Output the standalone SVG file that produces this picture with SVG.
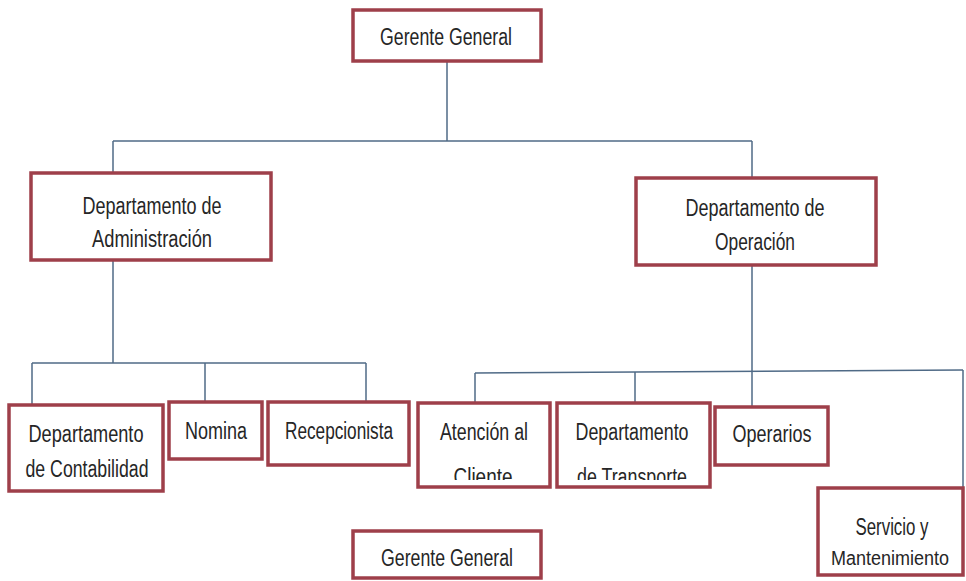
<svg xmlns="http://www.w3.org/2000/svg" width="966" height="581" viewBox="0 0 966 581">
<style>
.box{fill:#ffffff;stroke:#9e3f4a;stroke-width:3.5}
.lbl{font-family:"Liberation Sans",Arial,sans-serif;font-size:23px;fill:#262626;text-anchor:middle}
.conn{fill:none;stroke:#4f6a86;stroke-width:1.5}
</style>
<defs>
<clipPath id="clipA"><rect x="418" y="403" width="132" height="77"/></clipPath>
<clipPath id="clipT"><rect x="557" y="403" width="153" height="77"/></clipPath>
</defs>
<rect width="966" height="581" fill="#ffffff"/>
<g id="connectors">
<path class="conn" d="M447,61 V141"/>
<path class="conn" d="M113,141 H752"/>
<path class="conn" d="M113,141 V173"/>
<path class="conn" d="M752,141 V178"/>
<path class="conn" d="M113,260 V363"/>
<path class="conn" d="M32,363 H366"/>
<path class="conn" d="M32,363 V405"/>
<path class="conn" d="M205,363 V402"/>
<path class="conn" d="M366,363 V402"/>
<path class="conn" d="M752,265 V407"/>
<path class="conn" d="M475,373 L963,370"/>
<path class="conn" d="M475,373 V403"/>
<path class="conn" d="M635,372 V403"/>
<path class="conn" d="M963,370 V488"/>
</g>
<g id="gerente-general">
<rect class="box" x="353" y="10" width="188" height="51"/>
<text class="lbl" x="446" y="45" textLength="132" lengthAdjust="spacingAndGlyphs">Gerente General</text>
</g>
<g id="dep-administracion">
<rect class="box" x="31" y="173" width="240" height="87"/>
<text class="lbl" x="152" y="214" textLength="139" lengthAdjust="spacingAndGlyphs">Departamento de</text>
<text class="lbl" x="152" y="247" textLength="120" lengthAdjust="spacingAndGlyphs">Administración</text>
</g>
<g id="dep-operacion">
<rect class="box" x="636" y="178" width="240" height="87"/>
<text class="lbl" x="755" y="216" textLength="139" lengthAdjust="spacingAndGlyphs">Departamento de</text>
<text class="lbl" x="755" y="250" textLength="80" lengthAdjust="spacingAndGlyphs">Operación</text>
</g>
<g id="dep-contabilidad">
<rect class="box" x="9" y="405" width="154" height="86"/>
<text class="lbl" x="86" y="442" textLength="115" lengthAdjust="spacingAndGlyphs">Departamento</text>
<text class="lbl" x="87" y="477" textLength="123" lengthAdjust="spacingAndGlyphs">de Contabilidad</text>
</g>
<g id="nomina">
<rect class="box" x="169" y="402" width="93" height="57"/>
<text class="lbl" x="216" y="439" textLength="62" lengthAdjust="spacingAndGlyphs">Nomina</text>
</g>
<g id="recepcionista">
<rect class="box" x="268" y="402" width="141" height="63"/>
<text class="lbl" x="339" y="439" textLength="108" lengthAdjust="spacingAndGlyphs">Recepcionista</text>
</g>
<g id="atencion-cliente">
<rect class="box" x="418" y="403" width="132" height="84"/>
<text class="lbl" x="484" y="440" textLength="88" lengthAdjust="spacingAndGlyphs">Atención al</text>
<text class="lbl" x="483" y="485" textLength="59" lengthAdjust="spacingAndGlyphs" clip-path="url(#clipA)">Cliente</text>
</g>
<g id="dep-transporte">
<rect class="box" x="557" y="403" width="153" height="84"/>
<text class="lbl" x="632" y="440" textLength="113" lengthAdjust="spacingAndGlyphs">Departamento</text>
<text class="lbl" x="632" y="485" textLength="110" lengthAdjust="spacingAndGlyphs" clip-path="url(#clipT)">de Transporte</text>
</g>
<g id="operarios">
<rect class="box" x="715" y="407" width="113" height="58"/>
<text class="lbl" x="772" y="442" textLength="79" lengthAdjust="spacingAndGlyphs">Operarios</text>
</g>
<g id="servicio-mantenimiento">
<rect class="box" x="818" y="488" width="145" height="87"/>
<text class="lbl" x="892" y="535" textLength="73" lengthAdjust="spacingAndGlyphs">Servicio y</text>
<text class="lbl" x="890" y="565" style="font-size:20px" textLength="118" lengthAdjust="spacingAndGlyphs">Mantenimiento</text>
</g>
<g id="gerente-general-2">
<rect class="box" x="353" y="531" width="188" height="47"/>
<text class="lbl" x="447" y="566" textLength="132" lengthAdjust="spacingAndGlyphs">Gerente General</text>
</g>
</svg>
